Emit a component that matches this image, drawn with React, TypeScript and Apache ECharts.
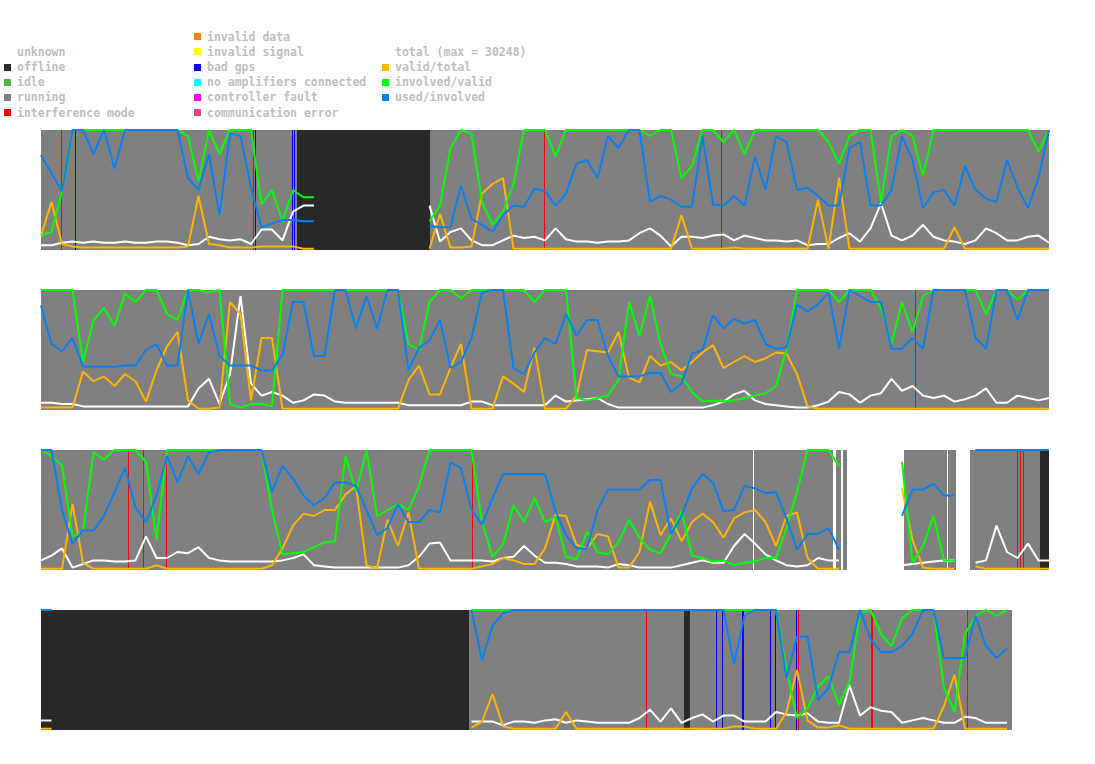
import { useEffect, useRef } from 'react';
import * as echarts from 'echarts';

// Four daily strips of detector statistics. Each strip spans 24 h; samples every 15 min.
// Ratios are stored in percent (0..100); `_` marks samples with no data.
const _ = null;
const STEP_HOURS = 0.25;
const TOTAL_MAX = 30248;

const statusNames = [
  'unknown', 'offline', 'idle', 'running', 'interference mode',
  'invalid data', 'invalid signal', 'bad gps', 'no amplifiers connected',
  'controller fault', 'communication error',
];
const statusColors: (string | null)[] = [
  null, '#282828', '#50b450', '#808080', '#ff0000',
  '#ff8000', '#ffff00', '#0000ff', '#00ffff', '#ff00ff', '#ff4080',
];

// status intervals: [start hour, end hour, status index]
const day1Status = [
  [0, 6.095, 3], [6.095, 9.262, 1], [9.262, 24, 3],
  [0.483, 0.507, 4], [0.817, 0.841, 7], [5.055, 5.079, 4], [5.088, 5.112, 7],
  [5.983, 6.007, 7], [6.031, 6.055, 7], [11.976, 12.0, 4], [16.19, 16.214, 4],
];
const day2Status = [[0, 24, 3], [20.81, 20.834, 4]];
const day3Status = [
  [0, 16.952, 3], [16.976, 18.857, 3], [18.929, 19.04, 3], [19.088, 19.19, 3],
  [20.548, 21.571, 3], [21.595, 21.786, 3], [22.119, 23.786, 3], [23.786, 24, 1],
  [2.079, 2.103, 4], [2.436, 2.46, 4], [2.976, 3.0, 4], [10.262, 10.286, 4],
  [23.231, 23.255, 4], [23.31, 23.334, 4], [23.388, 23.412, 4],
];
const day4Status = [
  [0, 10.183, 1], [10.183, 23.112, 3], [15.31, 15.452, 1],
  [14.398, 14.422, 4], [16.071, 16.095, 7], [16.221, 16.245, 7], [16.698, 16.746, 7],
  [17.357, 17.381, 7], [17.483, 17.507, 7], [17.976, 18.0, 7], [18.031, 18.055, 4],
  [19.755, 19.803, 4], [22.055, 22.079, 4],
];

// total (relative to TOTAL_MAX), valid/total, involved/valid, used/involved
const day1Total = [
  4, 4, 6, 7, 6, 7, 6, 6, 7, 6,
  6, 7, 7, 6, 4, 5, 11, 9, 8, 9,
  5, 17, 17, 8, 32, 37, 37, _, _, _,
  _, _, _, _, _, _, _, 37, 7, 15,
  18, 8, 4, 4, 8, 12, 10, 11, 8, 18,
  9, 7, 7, 6, 7, 7, 8, 14, 18, 12,
  3, 11, 11, 10, 12, 13, 8, 12, 10, 8,
  8, 7, 8, 4, 5, 5, 10, 14, 7, 18,
  39, 12, 8, 12, 21, 11, 8, 7, 5, 8,
  18, 14, 8, 8, 11, 12, 6,
];
const day1Valid = [
  12, 40, 5, 3, 2, 2, 2, 2, 2, 2,
  2, 2, 2, 2, 3, 45, 5, 4, 2, 2,
  2, 3, 3, 3, 3, 1, 1, _, _, _,
  _, _, _, _, _, _, _, 1, 30, 2,
  2, 3, 47, 55, 60, 1, 1, 1, 1, 1,
  1, 1, 1, 1, 1, 1, 1, 1, 1, 1,
  1, 29, 1, 1, 1, 1, 2, 1, 1, 1,
  1, 1, 1, 1, 42, 1, 60, 1, 1, 1,
  1, 1, 1, 1, 1, 1, 1, 19, 1, 1,
  1, 1, 1, 1, 1, 1, 1,
];
const day1Involved = [
  12, 15, 49, 100, 100, 100, 100, 100, 100, 100,
  100, 100, 100, 100, 95, 57, 100, 80, 100, 100,
  100, 38, 50, 24, 50, 44, 44, _, _, _,
  _, _, _, _, _, _, _, 24, 37, 85,
  100, 97, 40, 21, 32, 55, 100, 100, 100, 78,
  100, 100, 100, 100, 100, 100, 100, 100, 95, 100,
  100, 60, 70, 100, 100, 90, 100, 80, 100, 100,
  100, 100, 100, 100, 100, 90, 72, 95, 100, 100,
  40, 95, 100, 95, 62, 100, 100, 100, 100, 100,
  100, 100, 100, 100, 100, 82, 100,
];
const day1Used = [
  79, 64, 49, 100, 100, 80, 100, 68, 100, 100,
  100, 100, 100, 100, 60, 50, 80, 29, 97, 95,
  52, 19, 22, 25, 25, 24, 24, _, _, _,
  _, _, _, _, _, _, _, 20, 19, 19,
  54, 26, 21, 15, 29, 37, 36, 51, 49, 37,
  47, 72, 75, 60, 95, 85, 100, 100, 40, 45,
  42, 36, 36, 95, 38, 37, 45, 37, 78, 50,
  95, 90, 50, 52, 45, 37, 37, 85, 90, 37,
  37, 50, 95, 75, 35, 48, 50, 37, 70, 50,
  43, 40, 75, 52, 35, 60, 100,
];

const day2Total = [
  6, 6, 5, 5, 3, 3, 3, 3, 3, 3,
  3, 3, 3, 3, 3, 18, 26, 5, 30, 95,
  22, 12, 15, 12, 6, 8, 13, 12, 7, 6,
  6, 6, 6, 6, 6, 4, 4, 4, 4, 4,
  4, 7, 7, 4, 4, 4, 4, 4, 4, 12,
  7, 8, 9, 10, 5, 2, 2, 2, 2, 2,
  2, 2, 2, 2, 4, 7, 13, 16, 8, 5,
  4, 3, 2, 2, 4, 7, 15, 13, 6, 12,
  14, 26, 16, 20, 12, 10, 12, 7, 9, 12,
  18, 6, 6, 12, 10, 8, 10,
];
const day2Valid = [
  2, 2, 2, 2, 32, 24, 28, 20, 30, 24,
  7, 33, 53, 65, 8, 1, 1, 2, 90, 80,
  8, 60, 60, 1, 1, 1, 1, 1, 1, 1,
  1, 1, 1, 1, 1, 25, 37, 13, 13, 35,
  55, 1, 1, 1, 28, 22, 15, 52, 1, 1,
  1, 12, 50, 49, 48, 65, 27, 23, 45, 37,
  40, 33, 40, 48, 54, 35, 40, 45, 40, 43,
  48, 47, 30, 3, 1, 1, 1, 1, 1, 1,
  1, 1, 1, 1, 1, 1, 1, 1, 1, 1,
  1, 1, 1, 1, 1, 1, 1,
];
const day2Involved = [
  100, 100, 100, 100, 40, 75, 85, 70, 97, 90,
  100, 100, 80, 75, 100, 100, 98, 100, 5, 2,
  5, 5, 3, 100, 100, 100, 100, 100, 100, 100,
  100, 100, 100, 100, 100, 55, 50, 90, 100, 100,
  93, 100, 100, 100, 100, 100, 100, 90, 100, 100,
  100, 10, 8, 10, 12, 25, 90, 62, 95, 55,
  30, 28, 15, 7, 8, 7, 8, 10, 12, 14,
  20, 50, 100, 100, 100, 100, 90, 100, 100, 100,
  85, 55, 90, 65, 95, 100, 100, 100, 100, 100,
  80, 100, 100, 92, 100, 100, 100,
];
const day2Used = [
  87, 55, 49, 60, 36, 36, 36, 36, 37, 37,
  50, 55, 37, 37, 100, 55, 80, 45, 37, 37,
  37, 33, 33, 46, 90, 90, 45, 45, 100, 100,
  68, 95, 68, 100, 100, 33, 52, 58, 75, 35,
  40, 60, 98, 100, 100, 35, 30, 48, 60, 55,
  80, 62, 75, 75, 45, 28, 28, 28, 31, 31,
  15, 22, 47, 50, 79, 68, 76, 72, 75, 55,
  51, 52, 88, 82, 88, 98, 51, 100, 95, 90,
  90, 51, 51, 60, 51, 100, 100, 100, 100, 60,
  51, 100, 100, 75, 100, 100, 100,
];

const day3Total = [
  8, 12, 18, 2, 5, 8, 8, 7, 7, 8,
  28, 10, 10, 15, 14, 19, 10, 8, 7, 7,
  7, 7, 7, 8, 10, 13, 4, 3, 2, 2,
  2, 2, 2, 2, 2, 4, 11, 22, 23, 8,
  8, 8, 8, 7, 10, 11, 20, 12, 6, 6,
  5, 3, 3, 3, 2, 5, 4, 2, 2, 2,
  2, 4, 6, 8, 6, 6, 20, 30, 22, 13,
  8, 4, 3, 4, 10, 8, 8, _, _, _,
  _, _, 4, 5, 6, 7, 8, 8, _, 6,
  8, 37, 15, 10, 22, 8, 8,
];
const day3Valid = [
  1, 1, 1, 55, 6, 1, 1, 1, 1, 1,
  1, 4, 1, 1, 1, 1, 1, 1, 1, 1,
  1, 1, 4, 18, 37, 47, 45, 50, 50, 63,
  70, 4, 1, 42, 20, 48, 1, 1, 1, 1,
  1, 1, 3, 5, 10, 8, 5, 5, 18, 46,
  45, 21, 18, 30, 28, 2, 2, 15, 57, 29,
  43, 24, 40, 47, 40, 27, 43, 48, 50, 40,
  20, 45, 48, 10, 1, 1, 1, _, _, _,
  _, _, 68, 25, 2, 1, 1, 1, _, 3,
  1, 1, 1, 1, 1, 1, 1,
];
const day3Involved = [
  100, 95, 87, 28, 32, 98, 92, 100, 100, 100,
  90, 25, 100, 100, 100, 100, 100, 100, 100, 100,
  100, 100, 50, 13, 14, 15, 19, 23, 24, 95,
  65, 100, 45, 50, 55, 50, 70, 100, 100, 100,
  100, 100, 40, 11, 21, 54, 40, 60, 40, 44,
  11, 9, 32, 15, 13, 23, 42, 27, 17, 14,
  30, 49, 12, 10, 7, 8, 4, 6, 7, 10,
  10, 35, 65, 100, 100, 100, 86, _, _, _,
  _, _, 90, 6, 20, 45, 8, 8, _, 100,
  100, 100, 100, 100, 100, 100, 100,
];
const day3Used = [
  100, 100, 50, 22, 33, 33, 45, 65, 85, 52,
  40, 62, 95, 73, 95, 80, 98, 100, 100, 100,
  100, 100, 65, 87, 76, 62, 54, 60, 73, 73,
  70, 50, 29, 35, 55, 40, 40, 50, 48, 90,
  85, 50, 38, 60, 80, 80, 80, 80, 80, 49,
  29, 18, 18, 50, 67, 67, 67, 67, 75, 75,
  30, 45, 68, 80, 73, 49, 50, 70, 68, 64,
  65, 43, 17, 30, 30, 35, 17, _, _, _,
  _, _, 45, 67, 67, 72, 62, 62, _, 100,
  100, 100, 100, 100, 100, 100, 100,
];

const day4Total = [
  8, 8, _, _, _, _, _, _, _, _,
  _, _, _, _, _, _, _, _, _, _,
  _, _, _, _, _, _, _, _, _, _,
  _, _, _, _, _, _, _, _, _, _,
  _, 7, 7, 7, 4, 7, 7, 6, 8, 9,
  6, 8, 7, 6, 6, 6, 6, 10, 17, 7,
  18, 6, 10, 13, 7, 12, 12, 7, 7, 7,
  15, 13, 12, 14, 7, 6, 6, 37, 12, 19,
  16, 15, 6, 8, 10, 8, 6, 6, 11, 10,
  6, 6, 6, _, _, _, _,
];
const day4Valid = [
  1, 1, _, _, _, _, _, _, _, _,
  _, _, _, _, _, _, _, _, _, _,
  _, _, _, _, _, _, _, _, _, _,
  _, _, _, _, _, _, _, _, _, _,
  _, 2, 7, 30, 3, 1, 1, 1, 1, 1,
  15, 1, 1, 1, 1, 1, 1, 1, 1, 1,
  1, 1, 1, 1, 1, 1, 3, 3, 1, 1,
  1, 15, 50, 8, 2, 2, 4, 1, 1, 1,
  1, 1, 1, 1, 1, 1, 20, 46, 1, 1,
  1, 1, 1, _, _, _, _,
];
const day4Involved = [
  100, 100, _, _, _, _, _, _, _, _,
  _, _, _, _, _, _, _, _, _, _,
  _, _, _, _, _, _, _, _, _, _,
  _, _, _, _, _, _, _, _, _, _,
  _, 100, 100, 100, 100, 100, 100, 100, 100, 100,
  100, 100, 100, 100, 100, 100, 100, 100, 100, 100,
  100, 100, 100, 100, 100, 100, 100, 100, 100, 100,
  100, 50, 10, 18, 36, 45, 21, 40, 98, 100,
  80, 70, 93, 100, 100, 100, 35, 15, 80, 95,
  100, 95, 100, _, _, _, _,
];
const day4Used = [
  100, 100, _, _, _, _, _, _, _, _,
  _, _, _, _, _, _, _, _, _, _,
  _, _, _, _, _, _, _, _, _, _,
  _, _, _, _, _, _, _, _, _, _,
  _, 100, 58, 87, 97, 100, 100, 100, 100, 100,
  100, 100, 100, 100, 100, 100, 100, 100, 100, 100,
  100, 100, 100, 100, 100, 100, 55, 95, 100, 100,
  100, 43, 78, 78, 25, 35, 65, 65, 100, 76,
  65, 65, 70, 80, 100, 100, 60, 60, 60, 95,
  70, 60, 68, _, _, _, _,
];

const days = [
  { status: day1Status, total: day1Total, valid: day1Valid, involved: day1Involved, used: day1Used },
  { status: day2Status, total: day2Total, valid: day2Valid, involved: day2Involved, used: day2Used },
  { status: day3Status, total: day3Total, valid: day3Valid, involved: day3Involved, used: day3Used },
  { status: day4Status, total: day4Total, valid: day4Valid, involved: day4Involved, used: day4Used },
];

const ratioSeries = [
  { key: 'total', label: `total (max = ${TOTAL_MAX})`, color: '#ffffff', swatch: null },
  { key: 'valid', label: 'valid/total', color: '#ffb400', swatch: '#ffb400' },
  { key: 'involved', label: 'involved/valid', color: '#00ff00', swatch: '#00ff00' },
  { key: 'used', label: 'used/involved', color: '#0a80f0', swatch: '#0a80f0' },
] as const;

const GRID_LEFT = 41;
const GRID_WIDTH = 1008;
const GRID_HEIGHT = 120;
const GRID_TOPS = [130, 290, 450, 610];

const LEGEND_FONT = 'bold 11.5px "DejaVu Sans Mono", monospace';
const LEGEND_TEXT = '#bebebe';

function toPoints(values: (number | null)[]) {
  return values.map((v, i) => [i * STEP_HOURS, v == null ? null : v / 100]);
}

function renderStatus(_params: any, api: any) {
  const color = statusColors[api.value(2)];
  if (!color) return null;
  const a = api.coord([api.value(0), 1]);
  const b = api.coord([api.value(1), 0]);
  const x0 = Math.round(a[0]);
  const x1 = Math.round(b[0]);
  return {
    type: 'rect',
    shape: { x: x0, y: a[1], width: Math.max(1, x1 - x0), height: b[1] - a[1] },
    style: { fill: color },
  };
}

function legendGraphics() {
  const rowY = (r: number) => 36.6 + r * 15.2;
  const columns = [
    { swatchX: 4, textX: 17, firstRow: 1, items: statusNames.slice(0, 5).map((n, i) => [statusColors[i], n]) },
    { swatchX: 194, textX: 207, firstRow: 0, items: statusNames.slice(5).map((n, i) => [statusColors[i + 5], n]) },
    { swatchX: 382, textX: 395, firstRow: 1, items: ratioSeries.map((s) => [s.swatch, s.label]) },
  ];
  const elements: any[] = [];
  columns.forEach((col) => {
    col.items.forEach(([color, label], i) => {
      const cy = rowY(col.firstRow + i);
      if (color) {
        elements.push({
          type: 'rect',
          shape: { x: col.swatchX, y: Math.round(cy - 3.5), width: 7, height: 7 },
          style: { fill: color },
          silent: true,
        });
      }
      elements.push({
        type: 'text',
        x: col.textX,
        y: cy,
        style: {
          text: label,
          font: LEGEND_FONT,
          fill: LEGEND_TEXT,
          verticalAlign: 'middle',
          textVerticalAlign: 'middle',
        },
        silent: true,
      });
    });
  });
  return elements;
}

function buildOption() {
  const series: any[] = [];
  days.forEach((day, k) => {
    series.push({
      type: 'custom',
      xAxisIndex: k,
      yAxisIndex: k,
      renderItem: renderStatus,
      encode: { x: [0, 1] },
      data: day.status,
      silent: true,
      z: 1,
    });
    ratioSeries.forEach((s, j) => {
      series.push({
        type: 'line',
        name: s.label,
        xAxisIndex: k,
        yAxisIndex: k,
        data: toPoints((day as any)[s.key]),
        symbol: 'none',
        showSymbol: false,
        connectNulls: false,
        clip: false,
        silent: true,
        lineStyle: { color: s.color, width: 2 },
        itemStyle: { color: s.color },
        emphasis: { disabled: true },
        z: 2 + j,
      });
    });
  });

  return {
    animation: false,
    backgroundColor: '#ffffff',
    grid: GRID_TOPS.map((top) => ({ left: GRID_LEFT, top, width: GRID_WIDTH, height: GRID_HEIGHT })),
    xAxis: GRID_TOPS.map((_t, k) => ({ type: 'value', gridIndex: k, min: 0, max: 24, show: false })),
    yAxis: GRID_TOPS.map((_t, k) => ({ type: 'value', gridIndex: k, min: 0, max: 1, show: false })),
    graphic: legendGraphics(),
    series,
  };
}

export default function App() {
  const ref = useRef<HTMLDivElement>(null);
  useEffect(() => {
    if (!ref.current) return;
    const chart = echarts.init(ref.current, undefined, { renderer: 'svg' });
    chart.setOption(buildOption() as any);
    return () => chart.dispose();
  }, []);
  return (
    <div
      ref={ref}
      style={{ position: 'fixed', left: 0, top: 0, width: 1095, height: 764, background: '#ffffff' }}
    />
  );
}
